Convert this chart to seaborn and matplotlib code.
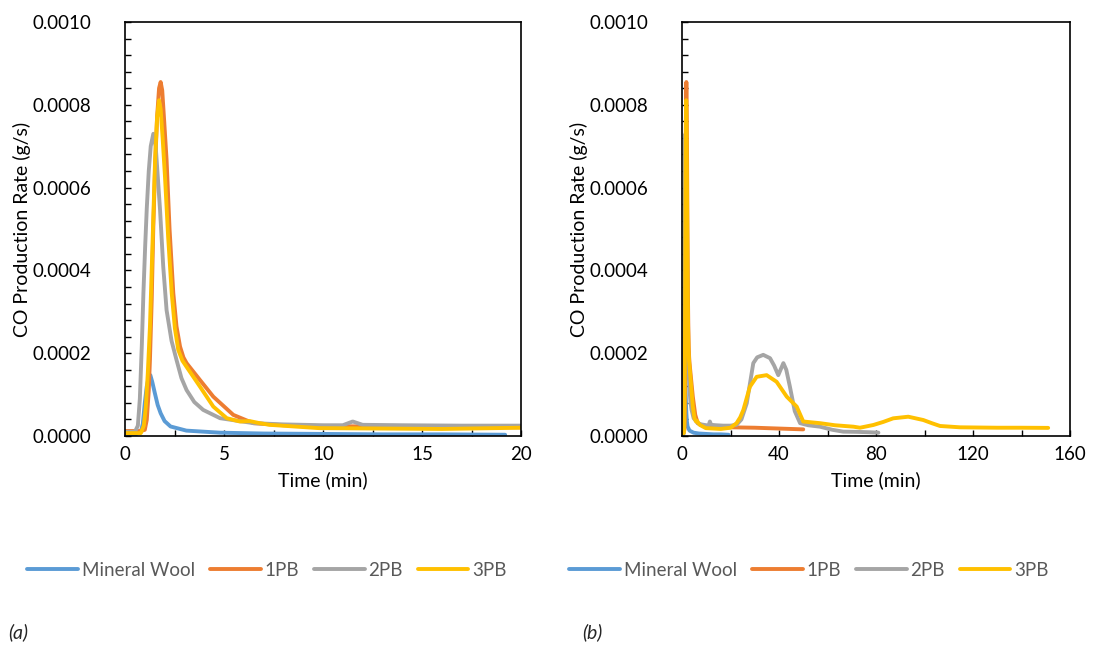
import numpy as np
import pandas as pd
import matplotlib
matplotlib.use("Agg")
import matplotlib.pyplot as plt
from matplotlib.ticker import MultipleLocator, FormatStrFormatter
from matplotlib.lines import Line2D
import seaborn as sns

# ---------------- data ----------------
mw_t = [0, 0.5, 0.8, 0.9, 1.0, 1.1, 1.2, 1.28, 1.38, 1.5, 1.65, 1.8, 2.0, 2.3, 3.1,
        4.8, 7, 10, 13, 16, 19.2]
mw_v = [2e-6, 3e-6, 1e-5, 3e-5, 8e-5, 1.2e-4, 1.42e-4, 1.47e-4, 1.3e-4, 1.05e-4,
        7.5e-5, 5.5e-5, 3.6e-5, 2.3e-5, 1.3e-5, 8e-6, 6e-6, 5e-6, 4e-6, 4e-6, 3e-6]

pb1_t = [0, 0.8, 1.0, 1.1, 1.2, 1.26, 1.35, 1.43, 1.52, 1.62, 1.72, 1.8, 1.88, 1.98,
         2.1, 2.25, 2.44, 2.6, 2.78, 2.95, 3.11, 3.79, 4.46, 5.47, 6.48, 8, 10, 15, 20,
         30, 40, 50]
pb1_v = [1.2e-5, 1.2e-5, 1.5e-5, 3.9e-5, 1.1e-4, 1.84e-4, 3.3e-4, 5.05e-4, 6.5e-4,
         7.7e-4, 8.4e-4, 8.55e-4, 8.35e-4, 7.6e-4, 6.67e-4, 5.0e-4, 3.45e-4, 2.65e-4,
         2.16e-4, 1.9e-4, 1.76e-4, 1.35e-4, 9.5e-5, 5.1e-5, 3.1e-5, 2.6e-5, 2.4e-5,
         2.2e-5, 2.1e-5, 2.0e-5, 1.8e-5, 1.6e-5]

pb2_t = [0, 0.5, 0.65, 0.75, 0.85, 0.93, 1.02, 1.1, 1.2, 1.3, 1.43, 1.55, 1.65, 1.77,
         1.93, 2.1, 2.35, 2.6, 2.85, 3.11, 3.5, 3.95, 4.8, 6.5, 8, 10, 11, 11.5, 12,
         14, 17, 20, 22.5, 24.5, 26.7, 29.4, 31, 33.5, 36.3, 38, 39.7, 41.8, 43, 44.5,
         46.5, 48.7, 52, 56.9, 62, 66.5, 72, 77.5, 81]
pb2_v = [1e-5, 1e-5, 2.5e-5, 9e-5, 2.2e-4, 3.45e-4, 4.6e-4, 5.5e-4, 6.4e-4, 7.0e-4,
         7.3e-4, 7.0e-4, 6.3e-4, 5.46e-4, 4.1e-4, 3.04e-4, 2.3e-4, 1.84e-4, 1.4e-4,
         1.11e-4, 8.2e-5, 6.3e-5, 4.3e-5, 3.1e-5, 2.8e-5, 2.6e-5, 2.6e-5, 3.5e-5,
         2.7e-5, 2.6e-5, 2.5e-5, 2.5e-5, 2.7e-5, 4e-5, 7.9e-5, 1.76e-4, 1.9e-4,
         1.96e-4, 1.88e-4, 1.7e-4, 1.47e-4, 1.76e-4, 1.6e-4, 1.19e-4, 6e-5, 3.1e-5,
         2.6e-5, 2.25e-5, 1.5e-5, 1.05e-5, 1e-5, 9e-6, 8e-6]

pb3_t = [0, 0.8, 0.95, 1.05, 1.15, 1.26, 1.38, 1.52, 1.62, 1.72, 1.8, 1.9, 2.02, 2.18,
         2.36, 2.52, 2.69, 2.9, 3.11, 3.79, 4.46, 5.14, 5.8, 6.3, 6.8, 7.3, 9.8, 13,
         16, 20, 22.5, 24, 25.3, 28, 30.8, 34.9, 39, 43.2, 47.3, 50, 56.9, 63, 70.7,
         73.4, 78.9, 83, 87.1, 93.3, 99.5, 103, 106.4, 114.6, 130, 140, 151]
pb3_v = [7e-6, 7e-6, 2.5e-5, 7e-5, 1.5e-4, 2.64e-4, 4.5e-4, 6.67e-4, 7.7e-4, 8.11e-4,
         7.9e-4, 7.2e-4, 6.26e-4, 4.8e-4, 3.45e-4, 2.6e-4, 2.08e-4, 1.82e-4, 1.67e-4,
         1.19e-4, 7.1e-5, 4.3e-5, 3.5e-5, 3.6e-5, 3.1e-5, 2.7e-5, 1.9e-5, 1.8e-5,
         1.7e-5, 2.0e-5, 3.1e-5, 4.5e-5, 6.3e-5, 1.19e-4, 1.43e-4, 1.47e-4, 1.31e-4,
         9.5e-5, 7.1e-5, 3.5e-5, 3.1e-5, 2.6e-5, 2.25e-5, 2.0e-5, 2.66e-5, 3.4e-5,
         4.27e-5, 4.66e-5, 3.86e-5, 3.1e-5, 2.42e-5, 2.1e-5, 2.0e-5, 2.0e-5, 1.96e-5]

series_names = ["Mineral Wool", "1PB", "2PB", "3PB"]
series_colors = ["#5B9BD5", "#ED7D31", "#A5A5A5", "#FFC000"]
x_label = "Time (min)"
y_label = "CO Production Rate (g/s)"
panel_labels = ["(a)", "(b)"]

frames = []
for name, t, v in zip(series_names, [mw_t, pb1_t, pb2_t, pb3_t], [mw_v, pb1_v, pb2_v, pb3_v]):
    frames.append(pd.DataFrame({"Time": t, "Rate": v, "Series": name}))
df = pd.concat(frames, ignore_index=True)
palette = dict(zip(series_names, series_colors))

# ---------------- figure ----------------
sns.set_style("white")
plt.rcParams["font.family"] = ["Lato", "DejaVu Sans"]

W, H = 1095, 646
fig = plt.figure(figsize=(W / 100, H / 100), dpi=100)
ax1 = fig.add_axes([125 / W, 1 - 436 / H, 396 / W, 414 / H])
ax2 = fig.add_axes([682 / W, 1 - 436 / H, 388 / W, 414 / H])

configs = [
    (ax1, 20, 5, 2.5, 267 / W, 31, 396, 125),
    (ax2, 160, 40, 20, 809 / W, 588, 388, 682),
]

for ax, xmax, xmaj, xmin_step, leg_x, ylab_x, ax_w, ax_x0 in configs:
    sns.lineplot(data=df, x="Time", y="Rate", hue="Series", palette=palette,
                 hue_order=series_names, linewidth=2.8, legend=False, ax=ax,
                 estimator=None, sort=False)
    ax.set_xlim(0, xmax)
    ax.set_ylim(0, 0.001)
    ax.xaxis.set_major_locator(MultipleLocator(xmaj))
    ax.xaxis.set_minor_locator(MultipleLocator(xmin_step))
    ax.yaxis.set_major_locator(MultipleLocator(0.0002))
    ax.yaxis.set_minor_locator(MultipleLocator(0.00004))
    ax.yaxis.set_major_formatter(FormatStrFormatter("%.4f"))
    ax.tick_params(which="both", direction="in", length=4, width=1, color="black",
                   labelsize=13.5, labelcolor="black")
    ax.tick_params(axis="x", which="both", pad=7)
    ax.tick_params(axis="y", which="both", pad=24)
    ax.tick_params(which="both", top=False, right=False, bottom=True, left=True)
    for s in ax.spines.values():
        s.set_visible(True)
        s.set_color("black")
        s.set_linewidth(1.2)
    ax.set_xlabel(x_label, fontsize=14, color="black")
    ax.set_ylabel(y_label, fontsize=14, color="black")
    ax.xaxis.set_label_coords(0.5, (436 - 471) / 414)
    ax.yaxis.set_label_coords((ylab_x - ax_x0) / ax_w, 0.5)

    handles = [Line2D([0], [0], color=c, lw=2.8) for c in series_colors]
    fig.legend(handles, series_names, loc="center", bbox_to_anchor=(leg_x, 1 - 570 / H),
               ncol=4, frameon=False, fontsize=13.5, labelcolor="#595959",
               handlelength=2.7, handletextpad=0.2, columnspacing=0.8)

fig.text(8 / W, 1 - 632 / H, panel_labels[0], fontsize=14, style="italic",
         va="center", ha="left")
fig.text(582 / W, 1 - 632 / H, panel_labels[1], fontsize=14, style="italic",
         va="center", ha="left")

fig.savefig("out.png", dpi=100)
